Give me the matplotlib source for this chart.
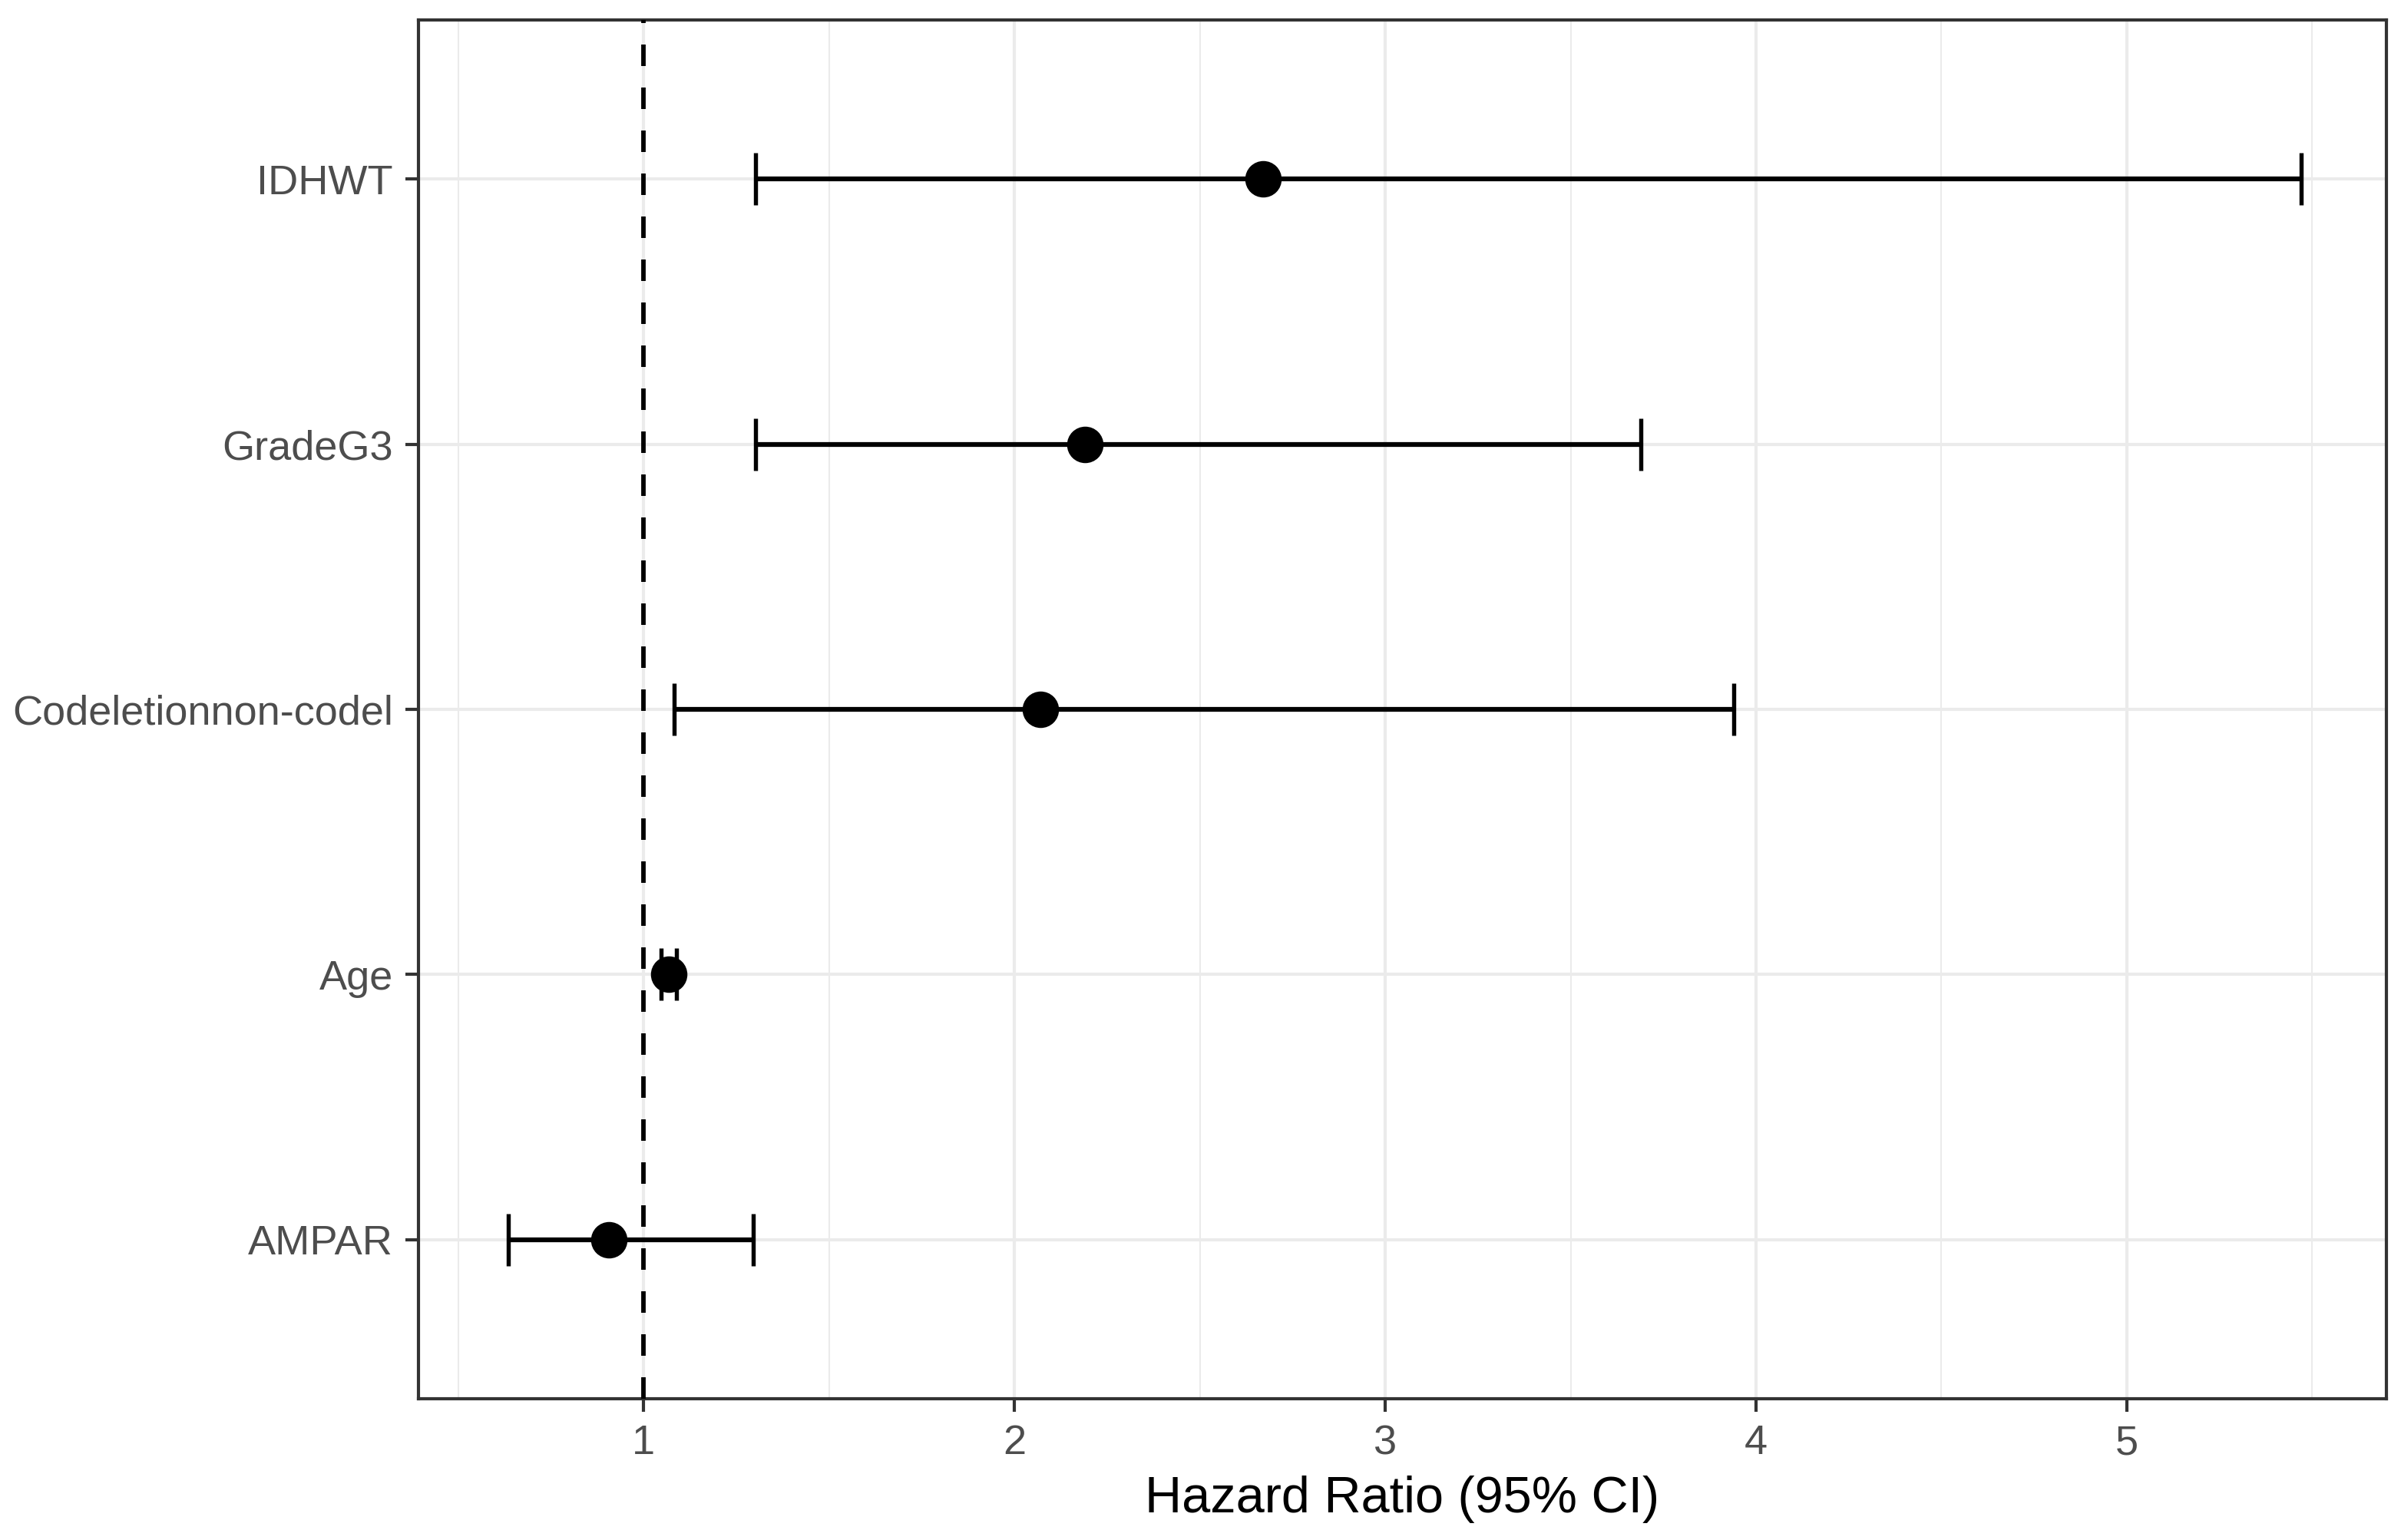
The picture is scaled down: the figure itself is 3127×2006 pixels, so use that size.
import numpy as np
import matplotlib
matplotlib.use("Agg")
import matplotlib.pyplot as plt
from matplotlib.ticker import MultipleLocator

# 森林图数据 (从下到上)
variables = ["AMPAR", "Age", "Codeletionnon-codel", "GradeG3", "IDHWT"]
hr = [0.907, 1.067, 2.07, 2.19, 2.67]
ci_low = [0.636, 1.048, 1.083, 1.302, 1.302]
ci_high = [1.296, 1.089, 3.94, 3.69, 5.47]
x_ticks = [1, 2, 3, 4, 5]

plt.rcParams['font.family'] = ['Liberation Sans', 'DejaVu Sans']

fig = plt.figure(figsize=(3127 / 300, 2006 / 300), dpi=300)
ax = fig.add_axes([545 / 3127, 1 - 1822 / 2006, (3108 - 545) / 3127, (1822 - 26) / 2006])

y = np.arange(1, len(variables) + 1)
hr = np.array(hr)
err = np.vstack([hr - np.array(ci_low), np.array(ci_high) - hr])

# 网格线 (theme_bw 风格)
ax.set_axisbelow(True)
ax.xaxis.set_minor_locator(MultipleLocator(0.5))
ax.grid(which='major', color='#EBEBEB', linewidth=1.0)
ax.grid(which='minor', axis='x', color='#EBEBEB', linewidth=0.5)

ax.errorbar(hr, y, xerr=err, fmt='none', ecolor='black', elinewidth=1.5,
            capsize=8.2, capthick=1.3, zorder=3)
ax.plot(hr, y, 'o', color='black', markersize=10.4, zorder=4)
ax.axvline(1, color='black', linewidth=1.4, linestyle=(0, (4.8, 4.8)), zorder=5)

ax.set_xlim(0.393, 5.70)
ax.set_ylim(0.4, 5.6)
ax.set_xticks(x_ticks)
ax.set_xticklabels([str(t) for t in x_ticks])
ax.set_yticks(y)
ax.set_yticklabels(variables)

ax.tick_params(which='major', length=4, width=1.0, color='#333333',
               labelsize=13, labelcolor='#4D4D4D', pad=4)
ax.tick_params(which='minor', length=0)
for s in ax.spines.values():
    s.set_color('#333333')
    s.set_linewidth(1.0)

ax.set_xlabel('Hazard Ratio (95% CI)', fontsize=16, color='black', labelpad=4)

fig.savefig('out.png', dpi=300)
